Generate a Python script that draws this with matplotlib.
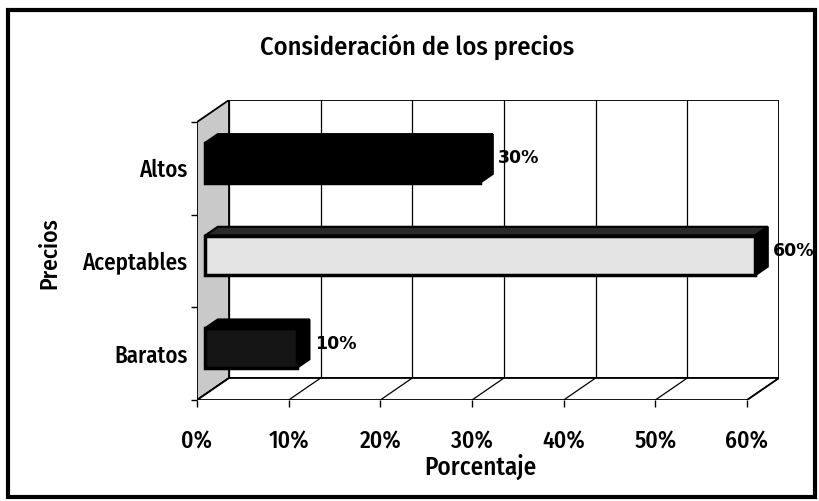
import matplotlib.pyplot as plt
from matplotlib.patches import Polygon, Rectangle

# datos
categorias = ['Baratos', 'Aceptables', 'Altos']
porcentajes = [10, 60, 30]
ticks_x = [0, 10, 20, 30, 40, 50, 60]
etiquetas_x = ['0%', '10%', '20%', '30%', '40%', '50%', '60%']

# estilos de cada barra (frente, techo, lado)
colores_frente = ['#151515', '#e4e4e4', '#000000']
colores_techo = ['#000000', '#2a2a2a', '#000000']
colores_lado = ['#000000', '#000000', '#000000']

fuente = ['Fira Sans Condensed', 'DejaVu Sans']
plt.rcParams['font.family'] = fuente

W, H = 819, 501
fig = plt.figure(figsize=(W / 100, H / 100), dpi=100)
ax = fig.add_axes([197 / W, 1 - 400 / H, 582 / W, 300 / H])

xmax = ticks_x[-1]
n = len(categorias)
DX = 32 / ((747 - 197) / xmax)   # profundidad en unidades de x
DY = 22 / ((400 - 122) / n)      # profundidad en unidades de y
ax.set_xlim(0, xmax + DX)
ax.set_ylim(0, n + DY)
for s in ax.spines.values():
    s.set_visible(False)

# pared del fondo
ax.add_patch(Rectangle((DX, DY), xmax, n, fc='white', ec='black', lw=1.3, zorder=0))
for t in ticks_x:
    ax.plot([t + DX, t + DX], [DY, n + DY], color='black', lw=0.9, zorder=1)

# pared izquierda
ax.add_patch(Polygon([(0, 0), (DX, DY), (DX, n + DY), (0, n)],
                     closed=True, fc='#c9c9c9', ec='black', lw=1.3, zorder=1))
# piso
ax.add_patch(Polygon([(0, 0), (xmax, 0), (xmax + DX, DY), (DX, DY)],
                     closed=True, fc='white', ec='black', lw=1.3, zorder=1))
for t in ticks_x:
    ax.plot([t, t + DX], [0, DY], color='black', lw=0.9, zorder=1)

# barras 3D
f, d, h = 0.25, 0.4, 0.43
for i, v in enumerate(porcentajes):
    c = i + 0.5
    x0 = f * DX
    y0 = c - h / 2 + f * DY
    ddx, ddy = d * DX, d * DY
    techo = [(x0, y0 + h), (x0 + v, y0 + h), (x0 + v + ddx, y0 + h + ddy), (x0 + ddx, y0 + h + ddy)]
    lado = [(x0 + v, y0), (x0 + v + ddx, y0 + ddy), (x0 + v + ddx, y0 + h + ddy), (x0 + v, y0 + h)]
    ax.add_patch(Polygon(techo, closed=True, fc=colores_techo[i], ec='black', lw=1.5, zorder=3))
    ax.add_patch(Polygon(lado, closed=True, fc=colores_lado[i], ec='black', lw=1.5, zorder=3))
    ax.add_patch(Rectangle((x0, y0), v, h, fc=colores_frente[i], ec='black', lw=2.5, zorder=4))
    ax.annotate(f'{v}%', xy=(x0 + v + ddx, y0 + h / 2 + ddy / 2), xytext=(4, 0),
                textcoords='offset points', va='center', ha='left',
                fontsize=12.5, fontweight='bold', family='DejaVu Sans', zorder=5)

# ejes
ax.set_xticks(ticks_x)
ax.set_xticklabels(etiquetas_x, fontsize=17, fontweight='medium')
ax.tick_params(axis='x', direction='out', length=5, width=1, pad=17)
ax.set_yticks(range(n + 1))
ax.set_yticklabels([])
ax.tick_params(axis='y', which='major', direction='out', length=4, width=1)
ax.set_yticks([i + 0.5 for i in range(n)], minor=True)
ax.set_yticklabels(categorias, minor=True, fontsize=16.5, fontweight='medium')
ax.tick_params(axis='y', which='minor', length=0, pad=7)

fig.text(417 / W, 1 - 48 / H, 'Consideración de los precios', ha='center', va='center',
         fontsize=19, fontweight='medium')
fig.text(480 / W, 1 - 467 / H, 'Porcentaje', ha='center', va='center',
         fontsize=18, fontweight='medium')
fig.text(50 / W, 1 - 253 / H, 'Precios', ha='center', va='center', rotation=90,
         fontsize=17, fontweight='medium')

# marco exterior
fig.add_artist(Rectangle((8 / W, 1 - 497 / H), (815 - 8) / W, (497 - 10) / H,
                         transform=fig.transFigure, fill=False, ec='black', lw=3))

fig.savefig('out.png', dpi=100)
